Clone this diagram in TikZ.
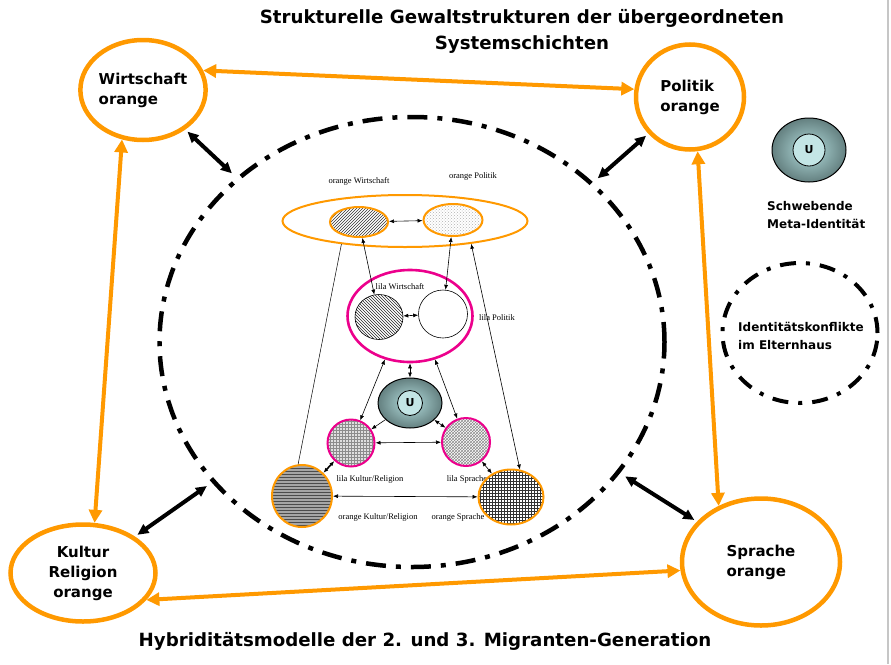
\documentclass[tikz,border=0pt]{standalone}
\usepackage{fontspec}
\setmainfont{DejaVu Sans}
\newfontfamily\kleinschrift{Liberation Serif}
\usetikzlibrary{shapes.geometric,patterns,arrows.meta}
\definecolor{orangerand}{RGB}{255,153,0}
\definecolor{lilarand}{RGB}{236,0,140}
\definecolor{tuerkis}{RGB}{180,222,222}
\definecolor{tuerkisdunkel}{RGB}{100,128,128}

\begin{document}
\begin{tikzpicture}[x=1pt,y=-1pt]
    \tikzstyle{every node}=[inner sep=0pt]
    \tikzstyle{schicht}=[ellipse, draw=orangerand, line width=4.5pt, font=\bfseries\fontsize{15}{20}\selectfont, align=left]
    \tikzstyle{titel}=[font=\bfseries\fontsize{18.2}{26}\selectfont, align=center]
    \tikzstyle{legende}=[font=\bfseries\fontsize{12}{18}\selectfont, align=left, anchor=west]
    \tikzstyle{orangepfeil}=[draw=orangerand, line width=4pt, {Triangle[length=13pt,width=13pt]}-{Triangle[length=13pt,width=13pt]}]
    \tikzstyle{bindung}=[draw=black, line width=4pt, {Triangle[length=11pt,width=10pt]}-{Triangle[length=11pt,width=10pt]}]
    \tikzstyle{ring}=[ellipse, draw=black, line width=4.5pt, dash pattern=on 20pt off 10pt on 5pt off 10pt]
    \tikzstyle{oring}=[ellipse, draw=orangerand, line width=2pt]
    \tikzstyle{lring}=[ellipse, draw=lilarand, line width=2pt]
    \tikzstyle{kreis}=[ellipse, draw=black, line width=0.6pt]
    \tikzstyle{udisk}=[ellipse, draw=black, line width=1pt, inner color=tuerkis, outer color=tuerkisdunkel]
    \tikzstyle{ukern}=[circle, draw=black, line width=0.8pt, fill=tuerkis!80!white, font=\bfseries\fontsize{11}{11}\selectfont]
    \tikzstyle{klein}=[font=\kleinschrift\fontsize{8.5}{9}\selectfont]
    \tikzstyle{pfeil}=[line width=0.6pt, {Latex[length=5pt,width=4pt]}-{Latex[length=5pt,width=4pt]}]
    \tikzstyle{duenn}=[line width=0.5pt]

    \useasboundingbox (0,0) rectangle (891,664);
    \draw[gray!45, line width=2pt] (888,0) -- (888,664);

    \node[titel] (titel) at (522,31) {Strukturelle Gewaltstrukturen der übergeordneten\\Systemschichten};
    \node[titel] (untertitel) at (425,641) {Hybriditätsmodelle der 2. und 3. Migranten-Generation};

    % Systemschichten
    \node[schicht, minimum width=116, minimum height=100] (wirt) at (143,90) {Wirtschaft\\orange};
    \node[schicht, minimum width=108, minimum height=105] (pol) at (690,97) {Politik\\orange};
    \node[schicht, minimum width=145, minimum height=97, align=center] (kult) at (83,573) {Kultur\\Religion\\orange};
    \node[schicht, minimum width=158, minimum height=127] (spr) at (761,562) {Sprache\\orange};

    \node[ring, minimum width=505, minimum height=450] (huelle) at (412,342) {};

    \draw[orangepfeil] (wirt.18) -- (pol.172);
    \draw[orangepfeil] (wirt.247) -- (kult.77);
    \draw[orangepfeil] (pol.278) -- (spr.127);
    \draw[orangepfeil] (kult.337) -- (spr.186);

    \draw[bindung, shorten <=3pt, shorten >=6pt] (wirt) -- (huelle);
    \draw[bindung, shorten <=3pt, shorten >=6pt] (pol) -- (huelle);
    \draw[bindung, shorten <=3pt, shorten >=6pt] (kult) -- (huelle);
    \draw[bindung, shorten <=3pt, shorten >=6pt] (spr) -- (huelle);

    % Modell innen
    \node[oring, minimum width=245, minimum height=52] (orahmen) at (405,221) {};
    \node[oring, minimum width=58, minimum height=30, preaction={fill=white}, pattern=north east lines, pattern color=black!80] (owirt) at (359,222) {};
    \node[oring, minimum width=59, minimum height=32, preaction={fill=white}, pattern=crosshatch dots, pattern color=gray!60] (opol) at (453,220) {};
    \node[klein] (lowirt) at (359,181) {orange Wirtschaft};
    \node[klein] (lopol) at (473,176) {orange Politik};

    \node[lring, line width=2.6pt, minimum width=125, minimum height=92] (lrahmen) at (410,316) {};
    \node[kreis, minimum width=48, minimum height=45, preaction={fill=white}, pattern=north west lines, pattern color=black!85] (lwirt) at (379,317) {};
    \node[kreis, minimum width=49, minimum height=48, fill=white] (lpol) at (443,314) {};
    \node[klein] (llwirt) at (400,287) {lila Wirtschaft};
    \node[klein] (llpol) at (497,318) {lila Politik};

    \node[udisk, minimum width=64, minimum height=50] (umitte) at (410,403) {};
    \node[ukern, minimum size=25] (ukernmitte) at (umitte) {U};

    \node[lring, minimum width=47, minimum height=47, preaction={fill=gray!25}, pattern=grid, pattern color=gray!90] (lkult) at (351,443) {};
    \node[lring, minimum width=48, minimum height=48, preaction={fill=white}, pattern=crosshatch, pattern color=gray!90] (lspr) at (466,442) {};
    \node[klein] (llkult) at (370,479) {lila Kultur/Religion};
    \node[klein] (llspr) at (467,479) {lila Sprache};

    \node[oring, minimum width=60, minimum height=62, preaction={fill=gray!70}, pattern=horizontal lines, pattern color=black!70] (okult) at (302,496) {};
    \node[oring, minimum width=65, minimum height=55, preaction={fill=white}, pattern=grid, pattern color=black!80] (ospr) at (511,497) {};
    \node[klein] (lokult) at (378,517) {orange Kultur/Religion};
    \node[klein] (lospr) at (458,517) {orange Sprache};

    \draw[pfeil] (owirt) -- (opol);
    \draw[pfeil] (owirt) -- (lwirt);
    \draw[pfeil] (opol) -- (lpol);
    \draw[pfeil] (lwirt) -- (lpol);
    \draw[duenn] (orahmen.200) -- (okult.97);
    \draw[pfeil] (orahmen.341) -- (ospr.72);
    \draw[pfeil] (lrahmen) -- (umitte);
    \draw[pfeil] (lrahmen.240) -- (lkult);
    \draw[pfeil] (lrahmen.300) -- (lspr);
    \draw[pfeil, {Latex[length=5pt,width=4pt]}-] (lkult) -- (umitte);
    \draw[pfeil] (umitte) -- (lspr);
    \draw[pfeil] (lkult) -- (lspr);
    \draw[pfeil, line width=1.6pt] (lkult) -- (okult);
    \draw[pfeil] (lspr) -- (ospr);
    \draw[pfeil] (okult) -- (ospr);

    % Legende
    \node[udisk, minimum width=74, minimum height=64] (uleg) at (809,150) {};
    \node[ukern, minimum size=32] (ulegkern) at (uleg) {U};
    \node[legende] (luleg) at (767,215) {Schwebende\\Meta-Identität};
    \node[ring, line width=4pt, minimum width=155, minimum height=140, dash pattern=on 16pt off 10pt on 4pt off 10pt] (ringleg) at (800,333) {};
    \node[legende] (lringleg) at (738,336) {Identitätskonflikte\\im Elternhaus};
\end{tikzpicture}
\end{document}
